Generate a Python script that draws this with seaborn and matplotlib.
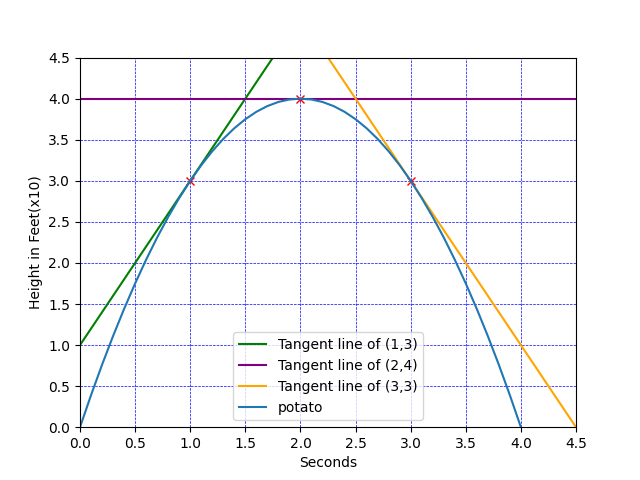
import matplotlib
matplotlib.use("Agg")
import matplotlib.pyplot as plt
import seaborn as sns
import pandas as pd

# Tangent lines (endpoints over x range)
tan_x = [0.0, 4.5]
tan13_y = [1.0, 10.0]
tan24_y = [4.0, 4.0]
tan33_y = [9.0, 0.0]

# Potato curve points
potato_x = [0.0, 0.1, 0.2, 0.3, 0.4, 0.5, 0.6, 0.7, 0.8, 0.9, 1.0, 1.1, 1.2, 1.3, 1.4,
            1.5, 1.6, 1.7, 1.8, 1.9, 2.0, 2.1, 2.2, 2.3, 2.4, 2.5, 2.6, 2.7, 2.8, 2.9,
            3.0, 3.1, 3.2, 3.3, 3.4, 3.5, 3.6, 3.7, 3.8, 3.9, 4.0]
potato_y = [0.0, 0.39, 0.76, 1.11, 1.44, 1.75, 2.04, 2.31, 2.56, 2.79, 3.0, 3.19, 3.36,
            3.51, 3.64, 3.75, 3.84, 3.91, 3.96, 3.99, 4.0, 3.99, 3.96, 3.91, 3.84, 3.75,
            3.64, 3.51, 3.36, 3.19, 3.0, 2.79, 2.56, 2.31, 2.04, 1.75, 1.44, 1.11, 0.76,
            0.39, 0.0]

# Tangent points
pts_x = [1, 2, 3]
pts_y = [3, 4, 3]

xticks = [0.0, 0.5, 1.0, 1.5, 2.0, 2.5, 3.0, 3.5, 4.0, 4.5]

fig, ax = plt.subplots(figsize=(6.4, 4.8), dpi=100)

sns.lineplot(x=tan_x, y=tan13_y, color="green", label="Tangent line of (1,3)", ax=ax, sort=False)
sns.lineplot(x=tan_x, y=tan24_y, color="purple", label="Tangent line of (2,4)", ax=ax, sort=False)
sns.lineplot(x=tan_x, y=tan33_y, color="orange", label="Tangent line of (3,3)", ax=ax, sort=False)
ax.plot(pts_x, pts_y, linestyle="none", marker="x", color="red", markersize=6)
sns.lineplot(x=potato_x, y=potato_y, color="#1f77b4", label="potato", ax=ax, sort=False)

ax.set_xlim(0, 4.5)
ax.set_ylim(0, 4.5)
ax.set_xticks(xticks)
ax.set_yticks(xticks)
ax.grid(True, color="blue", linestyle="--", linewidth=0.5)
ax.set_xlabel("Seconds")
ax.set_ylabel("Height in Feet(x10)")
ax.legend(loc="lower center")

fig.savefig("out.png", dpi=100)
